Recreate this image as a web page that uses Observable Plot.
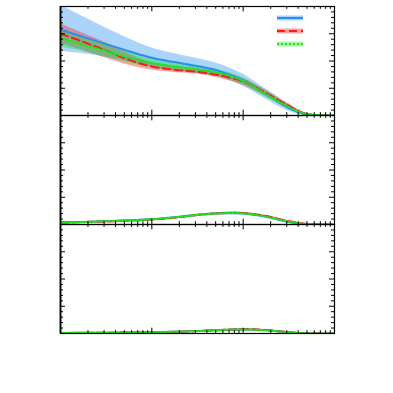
<!DOCTYPE html>
<html>
<head>
<meta charset="utf-8">
<script src="https://cdn.jsdelivr.net/npm/d3@7"></script>
<script src="https://cdn.jsdelivr.net/npm/@observablehq/plot@0.6"></script>
<style>
  html, body { margin: 0; padding: 0; background: #fff; }
  #wrap { position: relative; width: 393px; height: 393px; font-family: "DejaVu Sans", sans-serif; }
  #wrap svg { position: absolute; left: 0; top: 0; }
</style>
</head>
<body>
<div id="wrap"></div>
<script>
// ---- data ----
const xs = [0.001, 0.00178, 0.00316, 0.00562, 0.01, 0.0178, 0.0316, 0.0562, 0.1, 0.178, 0.316, 0.447, 0.562, 0.794, 1];
const panels = ["p1", "p2", "p3"];
const seriesNames = ["blue", "red", "green"];

// panel 1
const p1BlueMid = [3.15, 2.88, 2.62, 2.36, 2.12, 1.96, 1.81, 1.62, 1.29, 0.78, 0.27, 0.07, 0.02, 0.005, 0];
const p1BlueLo  = [2.35, 2.27, 2.15, 1.98, 1.78, 1.65, 1.55, 1.40, 1.07, 0.60, 0.16, 0.03, 0.005, 0, 0];
const p1BlueHi  = [4.05, 3.62, 3.20, 2.82, 2.48, 2.27, 2.09, 1.87, 1.51, 0.96, 0.42, 0.13, 0.04, 0.01, 0];
const p1RedMid  = [3.00, 2.70, 2.38, 2.04, 1.80, 1.68, 1.60, 1.47, 1.25, 0.82, 0.35, 0.10, 0.03, 0.005, 0];
const p1RedLo   = [2.64, 2.38, 2.10, 1.84, 1.66, 1.58, 1.51, 1.36, 1.11, 0.71, 0.27, 0.05, 0.01, 0, 0];
const p1RedHi   = [3.36, 3.02, 2.66, 2.26, 1.94, 1.79, 1.71, 1.58, 1.36, 0.93, 0.42, 0.13, 0.04, 0.01, 0];
const p1GreenMid = [2.84, 2.60, 2.36, 2.12, 1.93, 1.80, 1.69, 1.55, 1.27, 0.78, 0.31, 0.09, 0.03, 0.005, 0];
const p1GreenLo  = [2.52, 2.35, 2.14, 1.92, 1.75, 1.63, 1.55, 1.40, 1.15, 0.67, 0.24, 0.04, 0.01, 0, 0];
const p1GreenHi  = [3.10, 2.86, 2.60, 2.34, 2.11, 1.96, 1.84, 1.66, 1.38, 0.89, 0.38, 0.13, 0.04, 0.01, 0];

// panel 2
const p2BlueMid  = [0.07, 0.09, 0.12, 0.15, 0.19, 0.26, 0.35, 0.41, 0.40, 0.28, 0.09, 0.03, 0.01, 0.002, 0];
const p2RedMid   = [0.07, 0.09, 0.11, 0.14, 0.18, 0.25, 0.35, 0.41, 0.42, 0.31, 0.12, 0.04, 0.012, 0.002, 0];
const p2GreenMid = [0.07, 0.09, 0.12, 0.15, 0.19, 0.26, 0.35, 0.41, 0.41, 0.29, 0.10, 0.03, 0.01, 0.002, 0];
const p2Err      = [0.02, 0.02, 0.02, 0.02, 0.02, 0.02, 0.025, 0.03, 0.03, 0.03, 0.02, 0.01, 0.005, 0, 0];

// panel 3
const p3BlueMid  = [0.02, 0.025, 0.03, 0.04, 0.05, 0.065, 0.09, 0.12, 0.15, 0.12, 0.04, 0.01, 0.004, 0.001, 0];
const p3RedMid   = [0.02, 0.022, 0.028, 0.035, 0.045, 0.06, 0.09, 0.13, 0.16, 0.13, 0.05, 0.015, 0.005, 0.001, 0];
const p3GreenMid = [0.02, 0.025, 0.03, 0.04, 0.05, 0.065, 0.09, 0.13, 0.15, 0.12, 0.04, 0.01, 0.004, 0.001, 0];
const p3Err      = [0.01, 0.01, 0.01, 0.01, 0.01, 0.012, 0.015, 0.015, 0.015, 0.015, 0.01, 0.005, 0.002, 0, 0];

// axis ticks (no labels in the reference)
const xMajorTicks = [0.001, 0.01, 0.1, 1];
const xMinorTicks = [0.002,0.003,0.004,0.005,0.006,0.007,0.008,0.009,
                     0.02,0.03,0.04,0.05,0.06,0.07,0.08,0.09,
                     0.2,0.3,0.4,0.5,0.6,0.7,0.8,0.9];
const yMajorTicks = [1, 2, 3];
const yMinorTicks = [0.2,0.4,0.6,0.8,1.2,1.4,1.6,1.8,2.2,2.4,2.6,2.8,3.2,3.4,3.6,3.8];

// ---- table ----
const table = {
  p1: {blue: [p1BlueMid, p1BlueLo, p1BlueHi], red: [p1RedMid, p1RedLo, p1RedHi], green: [p1GreenMid, p1GreenLo, p1GreenHi]},
  p2: {blue: [p2BlueMid, p2Err], red: [p2RedMid, p2Err], green: [p2GreenMid, p2Err]},
  p3: {blue: [p3BlueMid, p3Err], red: [p3RedMid, p3Err], green: [p3GreenMid, p3Err]}
};
const rows = [];
for (const p of panels) for (const s of seriesNames) {
  const arr = table[p][s];
  xs.forEach((x, i) => {
    const mid = arr[0][i];
    const lo = arr.length === 3 ? arr[1][i] : Math.max(0, mid - arr[1][i]);
    const hi = arr.length === 3 ? arr[2][i] : mid + arr[1][i];
    rows.push({panel: p, series: s, x, mid, lo, hi});
  });
}

// ---- styles ----
const W = 393, H = 393, ML = 60, MR = 59, MT = 5, MB = 59;
const plotW = W - ML - MR;
const facetH = (H - MT - MB) / 3;
const bandFill = {blue: "#55aaf5", red: "#f03c3c", green: "#22dd55"};
const bandOpacity = {blue: 0.5, red: 0.45, green: 0.45};
const lineStroke = {blue: "#2a8ef0", red: "#ff1a1a", green: "#22e022"};
const lineDash = {blue: null, red: "8,4", green: "2,2"};
const curve = "catmull-rom";

const marks = [];
for (const s of seriesNames) {
  marks.push(Plot.areaY(rows, {filter: d => d.series === s, x: "x", y1: "lo", y2: "hi",
    fill: bandFill[s], fillOpacity: bandOpacity[s], curve, clip: true}));
}
for (const s of seriesNames) {
  marks.push(Plot.line(rows, {filter: d => d.series === s, x: "x", y: "mid",
    stroke: lineStroke[s], strokeWidth: 2, strokeDasharray: lineDash[s], curve, clip: true}));
}
// inward ticks on all four sides of each panel
marks.push(
  Plot.tickX(xMajorTicks, {x: d => d, insetTop: facetH - 6, stroke: "black"}),
  Plot.tickX(xMajorTicks, {x: d => d, insetBottom: facetH - 6, stroke: "black"}),
  Plot.tickX(xMinorTicks, {x: d => d, insetTop: facetH - 3.5, stroke: "black"}),
  Plot.tickX(xMinorTicks, {x: d => d, insetBottom: facetH - 3.5, stroke: "black"}),
  Plot.tickY(yMajorTicks, {y: d => d, insetRight: plotW - 5, stroke: "black"}),
  Plot.tickY(yMajorTicks, {y: d => d, insetLeft: plotW - 5, stroke: "black"}),
  Plot.tickY(yMinorTicks, {y: d => d, insetRight: plotW - 3, stroke: "black"}),
  Plot.tickY(yMinorTicks, {y: d => d, insetLeft: plotW - 3, stroke: "black"}),
  Plot.frame({stroke: "black", strokeWidth: 1.2}),
  Plot.ruleX([0.001], {x: d => d, stroke: "black", strokeWidth: 1.8})
);

const chart = Plot.plot({
  width: W, height: H,
  marginLeft: ML, marginRight: MR, marginTop: MT, marginBottom: MB,
  style: {background: "white"},
  facet: {data: rows, y: "panel"},
  fy: {domain: panels, axis: null, padding: 0, label: null},
  x: {type: "log", domain: [0.001, 1], axis: null},
  y: {domain: [0, 4], axis: null},
  marks
});
document.getElementById("wrap").appendChild(chart);

// ---- legend (symbols only, as in the reference) ----
const ns = "http://www.w3.org/2000/svg";
const leg = document.createElementNS(ns, "svg");
leg.setAttribute("width", W); leg.setAttribute("height", H);
leg.style.pointerEvents = "none";
const legendY = {blue: 18, red: 31, green: 44};
const legendBand = {blue: "#a9d3fa", red: "#f6a5a5", green: "#a8f5a8"};
for (const s of seriesNames) {
  const r = document.createElementNS(ns, "rect");
  r.setAttribute("x", 277); r.setAttribute("y", legendY[s] - 2.5);
  r.setAttribute("width", 26); r.setAttribute("height", 5);
  r.setAttribute("fill", legendBand[s]);
  leg.appendChild(r);
  const l = document.createElementNS(ns, "line");
  l.setAttribute("x1", 277); l.setAttribute("x2", 303);
  l.setAttribute("y1", legendY[s]); l.setAttribute("y2", legendY[s]);
  l.setAttribute("stroke", lineStroke[s]); l.setAttribute("stroke-width", 2);
  if (lineDash[s]) l.setAttribute("stroke-dasharray", lineDash[s]);
  leg.appendChild(l);
}
document.getElementById("wrap").appendChild(leg);
</script>
</body>
</html>
